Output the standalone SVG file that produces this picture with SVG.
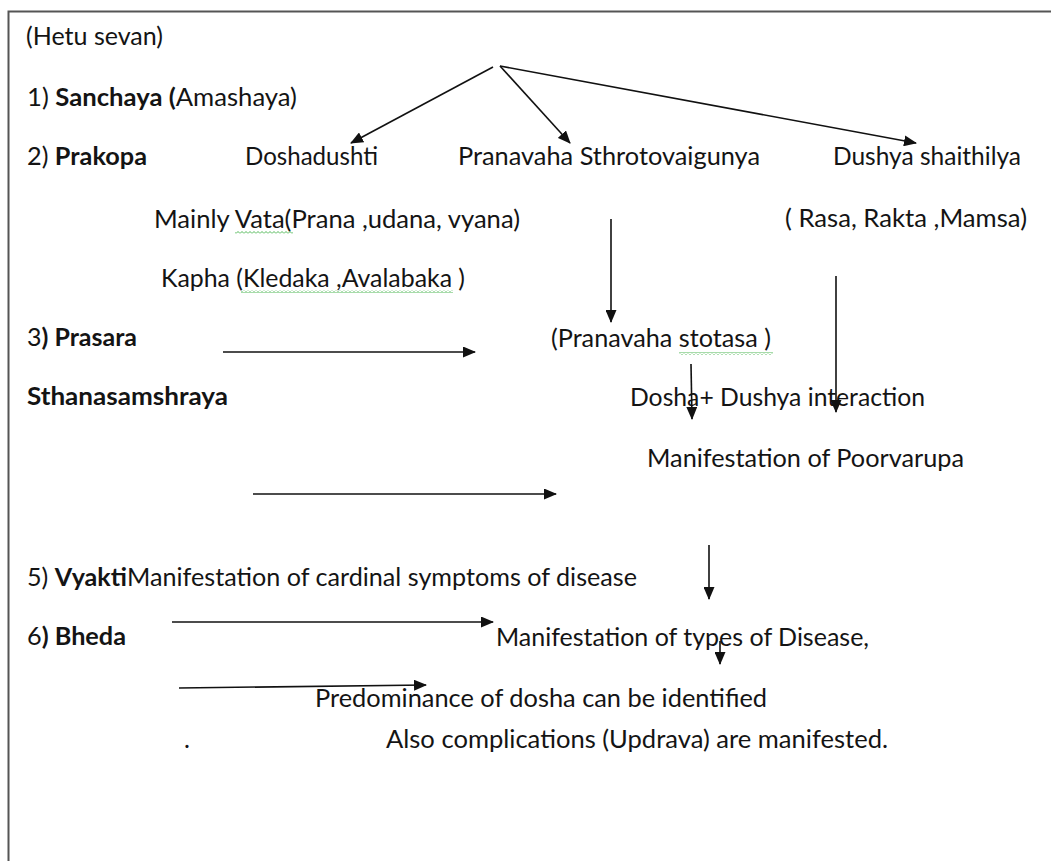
<svg xmlns="http://www.w3.org/2000/svg" width="1051" height="861" viewBox="0 0 1051 861">
  <style>
    text { font-family: Lato, "Open Sans", "Liberation Sans", sans-serif; font-size: 25px; fill: #141414; }
    .b { font-weight: bold; }
    .conn { stroke: #111; stroke-width: 1.6; fill: none; }
    .frame { stroke: #555; stroke-width: 2; fill: none; }
    .wavy { fill: url(#wavy); }
  </style>
  <defs>
    <marker id="arrow" markerUnits="userSpaceOnUse" markerWidth="13" markerHeight="11" refX="12" refY="5.5" orient="auto">
      <path d="M0,0 L13,5.5 L0,11 z" fill="#111"/>
    </marker>
    <pattern id="wavy" patternUnits="userSpaceOnUse" width="4" height="3">
      <path d="M0,2.5 L2,0.5 L4,2.5" stroke="#3cb043" stroke-width="0.9" fill="none"/>
    </pattern>
  </defs>
  <rect x="0" y="0" width="1051" height="861" fill="#fff"/>
  <path class="frame" d="M8.5,870 V11.5 H1060"/>

  <g id="hetu-sevan"><text x="26" y="45" textLength="137" lengthAdjust="spacingAndGlyphs">(Hetu sevan)</text></g>

  <g id="sanchaya">
    <text x="27" y="106" textLength="270" lengthAdjust="spacingAndGlyphs">1) <tspan class="b">Sanchaya (</tspan>Amashaya)</text>
  </g>

  <g id="prakopa">
    <text x="27" y="165" textLength="120" lengthAdjust="spacingAndGlyphs">2) <tspan class="b">Prakopa</tspan></text>
  </g>

  <g id="doshadushti"><text x="245" y="165" textLength="133" lengthAdjust="spacingAndGlyphs">Doshadushti</text></g>
  <g id="pranavaha-sthrotovaigunya"><text x="458" y="165" textLength="302" lengthAdjust="spacingAndGlyphs">Pranavaha Sthrotovaigunya</text></g>
  <g id="dushya-shaithilya"><text x="833" y="165" textLength="188" lengthAdjust="spacingAndGlyphs">Dushya shaithilya</text></g>

  <g id="mainly-vata">
    <text x="154" y="228" textLength="366" lengthAdjust="spacingAndGlyphs">Mainly Vata(Prana ,udana, vyana)</text>
    <rect class="wavy" x="235" y="231" width="58" height="3"/>
  </g>
  <g id="rasa-rakta-mamsa"><text x="785" y="227" textLength="242" lengthAdjust="spacingAndGlyphs">( Rasa, Rakta ,Mamsa)</text></g>

  <g id="kapha">
    <text x="161" y="287" textLength="304" lengthAdjust="spacingAndGlyphs">Kapha (Kledaka ,Avalabaka )</text>
    <rect class="wavy" x="241" y="290" width="212" height="3"/>
  </g>

  <g id="prasara">
    <text x="27" y="346" textLength="110" lengthAdjust="spacingAndGlyphs">3<tspan class="b">) Prasara</tspan></text>
  </g>

  <g id="pranavaha-stotasa">
    <text x="551" y="347" textLength="220" lengthAdjust="spacingAndGlyphs">(Pranavaha stotasa )</text>
    <rect class="wavy" x="679" y="352" width="94" height="3"/>
  </g>

  <g id="sthanasamshraya"><text class="b" x="27" y="405" textLength="201" lengthAdjust="spacingAndGlyphs">Sthanasamshraya</text></g>
  <g id="dosha-dushya-interaction"><text x="630" y="406" textLength="295" lengthAdjust="spacingAndGlyphs">Dosha+ Dushya interaction</text></g>
  <g id="poorvarupa"><text x="647" y="467" textLength="317" lengthAdjust="spacingAndGlyphs">Manifestation of Poorvarupa</text></g>

  <g id="vyakti">
    <text x="27" y="586" textLength="610" lengthAdjust="spacingAndGlyphs">5) <tspan class="b">Vyakti</tspan>Manifestation of cardinal symptoms of disease</text>
  </g>

  <g id="bheda">
    <text x="27" y="645" textLength="99" lengthAdjust="spacingAndGlyphs">6<tspan class="b">) Bheda</tspan></text>
  </g>

  <g id="types-of-disease"><text x="496" y="646" textLength="373" lengthAdjust="spacingAndGlyphs">Manifestation of types of Disease,</text></g>
  <g id="predominance"><text x="315" y="707" textLength="452" lengthAdjust="spacingAndGlyphs">Predominance of dosha can be identified</text></g>
  <g id="dot"><text x="184" y="748">.</text></g>
  <g id="complications"><text x="386" y="748" textLength="502" lengthAdjust="spacingAndGlyphs">Also complications (Updrava) are manifested.</text></g>

  <g id="connectors">
    <line class="conn" x1="493" y1="67" x2="351" y2="143" marker-end="url(#arrow)"/>
    <line class="conn" x1="500" y1="66" x2="570" y2="143" marker-end="url(#arrow)"/>
    <line class="conn" x1="500" y1="66" x2="916" y2="143" marker-end="url(#arrow)"/>
    <line class="conn" x1="611" y1="219" x2="611" y2="322" marker-end="url(#arrow)"/>
    <line class="conn" x1="836" y1="276" x2="836" y2="412" marker-end="url(#arrow)"/>
    <line class="conn" x1="691" y1="364" x2="692" y2="419" marker-end="url(#arrow)"/>
    <line class="conn" x1="223" y1="352" x2="475" y2="352" marker-end="url(#arrow)"/>
    <line class="conn" x1="253" y1="494" x2="556" y2="494" marker-end="url(#arrow)"/>
    <line class="conn" x1="709" y1="545" x2="709" y2="599" marker-end="url(#arrow)"/>
    <line class="conn" x1="172" y1="622" x2="493" y2="622" marker-end="url(#arrow)"/>
    <line class="conn" x1="720" y1="641" x2="720" y2="664" marker-end="url(#arrow)"/>
    <line class="conn" x1="179" y1="688" x2="426" y2="685" marker-end="url(#arrow)"/>
  </g>
</svg>
